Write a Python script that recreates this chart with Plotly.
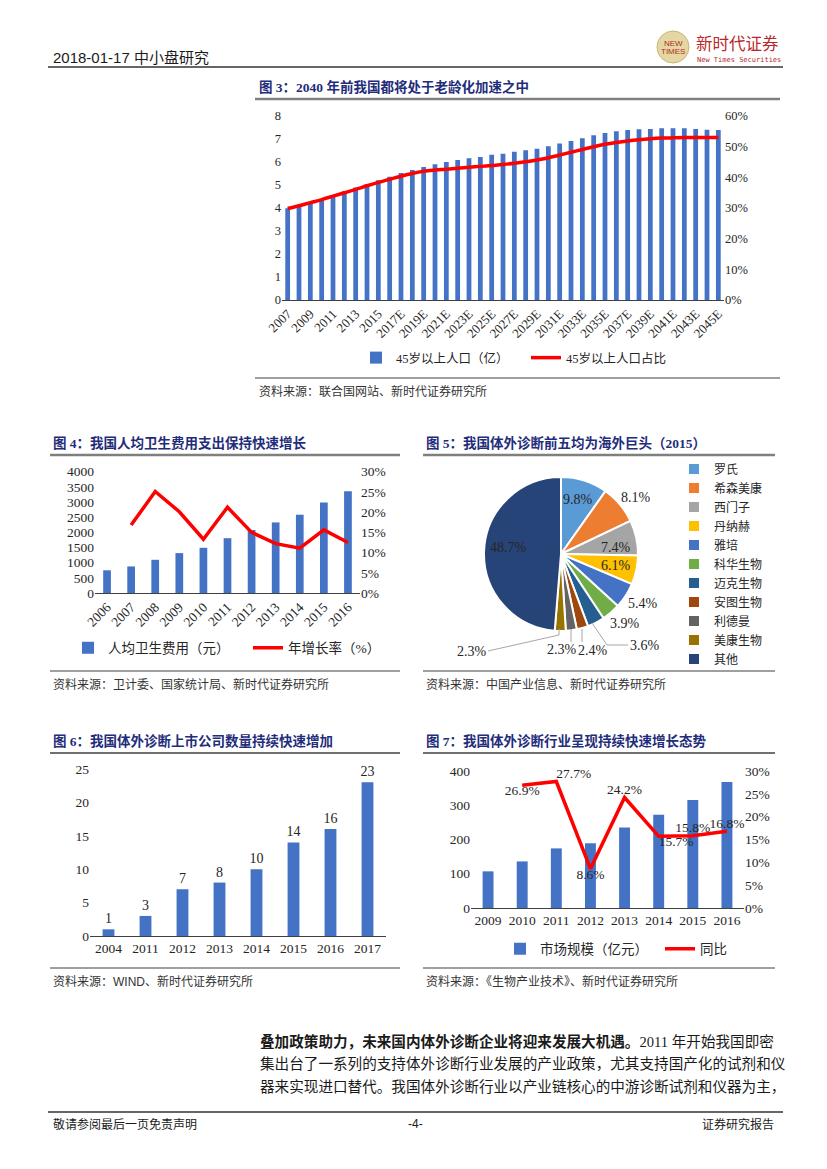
import plotly.graph_objects as go

W, H = 827, 1169

# ---------------- data ----------------
# Fig 3
years3 = [str(y) if y <= 2016 else f"{y}E" for y in range(2007, 2046)]
pop45 = [3.98, 4.1, 4.25, 4.35, 4.53, 4.72, 4.88, 5.04, 5.2, 5.35, 5.51, 5.64, 5.77, 5.89,
         5.99, 6.08, 6.15, 6.21, 6.3, 6.35, 6.43, 6.5, 6.57, 6.67, 6.79, 6.9, 7.02, 7.15,
         7.25, 7.32, 7.38, 7.41, 7.42, 7.45, 7.45, 7.45, 7.42, 7.39, 7.38]
pop45_share = [29.8, 30.7, 31.7, 32.7, 33.8, 34.9, 36.0, 37.2, 38.3, 39.3, 40.3, 41.2, 41.9,
               42.3, 42.6, 42.9, 43.2, 43.5, 43.8, 44.1, 44.5, 45.0, 45.6, 46.3, 47.2, 48.1,
               49.0, 49.9, 50.7, 51.3, 51.8, 52.2, 52.5, 52.7, 52.8, 52.9, 52.9, 52.9, 52.9]
ticks3 = years3[::2]

# Fig 4
years4 = [str(y) for y in range(2006, 2017)]
health_exp = [748.8, 876.0, 1094.5, 1314.3, 1490.1, 1807.0, 2076.7, 2327.4, 2581.7, 2980.8, 3351.7]
health_growth = [None, 16.8, 25.1, 20.1, 13.3, 21.2, 15.0, 12.2, 11.1, 15.6, 12.5]

# Fig 5
pie_labels = ["罗氏", "希森美康", "西门子", "丹纳赫", "雅培", "科华生物", "迈克生物",
              "安图生物", "利德曼", "美康生物", "其他"]
pie_values = [9.8, 8.1, 7.4, 6.1, 5.4, 3.9, 3.6, 2.4, 2.3, 2.3, 48.7]
pie_colors = ["#5B9BD5", "#ED7D31", "#A5A5A5", "#FFC000", "#4472C4", "#70AD47",
              "#255E91", "#9E480E", "#636363", "#997300", "#264478"]

# Fig 6
years6 = ["2004", "2011", "2012", "2013", "2014", "2015", "2016", "2017"]
listed_cos = [1, 3, 7, 8, 10, 14, 16, 23]

# Fig 7
years7 = [str(y) for y in range(2009, 2017)]
ivd_market = [107, 136, 174, 189, 235, 272, 315, 368]
ivd_growth = [None, 26.9, 27.7, 8.6, 24.2, 15.7, 15.8, 16.8]

# ---------------- helpers ----------------
BLUE = "#4472C4"
RED = "#FF0000"
NAVY = "#1F2D7A"
SERIF = "Liberation Serif, Noto Sans CJK SC"
SANS = "Liberation Sans, Noto Sans CJK SC"
TXT = "#262626"
OFF = 8  # page body margin offset


def px(x):
    return (x - OFF) / W


def py(y):
    return 1 - (y - OFF) / H


fig = go.Figure()

# ---------------- Fig 3 ----------------
fig.add_trace(go.Bar(x=years3, y=pop45, name="45岁以上人口（亿）", marker_color=BLUE,
                     width=0.42, xaxis="x", yaxis="y", legend="legend"))
fig.add_trace(go.Scatter(x=years3, y=pop45_share, name="45岁以上人口占比", mode="lines",
                         line=dict(color=RED, width=3.5, shape="spline"),
                         xaxis="x", yaxis="y2", legend="legend"))

# ---------------- Fig 4 ----------------
fig.add_trace(go.Bar(x=years4, y=health_exp, name="人均卫生费用（元）", marker_color=BLUE,
                     width=0.32, xaxis="x2", yaxis="y3", legend="legend2"))
fig.add_trace(go.Scatter(x=years4, y=health_growth, name="年增长率（%）", mode="lines",
                         line=dict(color=RED, width=3.5), connectgaps=False,
                         xaxis="x2", yaxis="y4", legend="legend2"))

# ---------------- Fig 5 ----------------
fig.add_trace(go.Pie(labels=pie_labels, values=pie_values, sort=False, direction="clockwise",
                     marker=dict(colors=pie_colors, line=dict(color="white", width=2)),
                     textinfo="none", hoverinfo="label+percent",
                     domain=dict(x=[px(484), px(638)], y=[py(631), py(477)]),
                     legend="legend3"))

# ---------------- Fig 6 ----------------
fig.add_trace(go.Bar(x=years6, y=listed_cos, marker_color=BLUE, text=listed_cos,
                     textposition="outside", constraintext="none",
                     textfont=dict(family=SERIF, size=14, color=TXT), width=0.32,
                     cliponaxis=False, showlegend=False, xaxis="x3", yaxis="y5"))

# ---------------- Fig 7 ----------------
fig.add_trace(go.Bar(x=years7, y=ivd_market, name="市场规模（亿元）", marker_color=BLUE,
                     width=0.32, xaxis="x4", yaxis="y6", legend="legend4"))
fig.add_trace(go.Scatter(x=years7, y=ivd_growth, name="同比", mode="lines+text",
                         text=[None if v is None else f"{v}%" for v in ivd_growth],
                         textposition=["top center", "bottom center", "top right", "bottom center",
                                       "top center", "bottom right", "top center", "top center"],
                         textfont=dict(family=SERIF, size=13.5, color=TXT),
                         line=dict(color=RED, width=3.5), cliponaxis=False,
                         xaxis="x4", yaxis="y7", legend="legend4"))


def tf(size):
    return dict(family=SERIF, size=size, color=TXT)


def xax(domain, anchor, size, **kw):
    return dict(domain=domain, anchor=anchor, type="category", showline=True, linecolor="#404040",
                linewidth=1.2, ticks="", showgrid=False, zeroline=False, fixedrange=True,
                automargin=False, tickfont=tf(size), **kw)


def yaxd(size, **kw):
    return dict(showline=False, showgrid=False, zeroline=False, ticks="", fixedrange=True,
                automargin=False, tickfont=tf(size), **kw)


fig.update_layout(
    template="none",
    width=W, height=H, margin=dict(l=0, r=0, t=0, b=0, autoexpand=False),
    paper_bgcolor="white", plot_bgcolor="white",
    font=dict(family=SERIF, color=TXT),
    # fig 3
    xaxis=xax([px(282), px(724)], "y", 13, tickvals=ticks3, tickangle=-45),
    yaxis=yaxd(12.5, domain=[py(300), py(115.7)], anchor="x", range=[0, 8], dtick=1),
    yaxis2=yaxd(12.5, overlaying="y", side="right", anchor="x", range=[0, 60], dtick=10,
                ticksuffix="%"),
    # fig 4
    xaxis2=xax([px(95), px(360)], "y3", 13.5, tickangle=-45),
    yaxis3=yaxd(13.5, domain=[py(593), py(471.7)], anchor="x2", range=[0, 4000], dtick=500),
    yaxis4=yaxd(13.5, overlaying="y3", side="right", anchor="x2", range=[0, 30], dtick=5,
                ticksuffix="%"),
    # fig 6
    xaxis3=xax([px(90), px(386)], "y5", 13.5),
    yaxis5=yaxd(13.5, domain=[py(936), py(769)], anchor="x3", range=[0, 25], dtick=5),
    # fig 7
    xaxis4=xax([px(471), px(744)], "y6", 13.5),
    yaxis6=yaxd(13.5, domain=[py(908), py(771)], anchor="x4", range=[0, 400], dtick=100),
    yaxis7=yaxd(13.5, overlaying="y6", side="right", anchor="x4", range=[0, 30], dtick=5,
                ticksuffix="%"),
    legend=dict(orientation="h", x=px(356), y=py(358), xanchor="left", yanchor="middle",
                font=dict(family=SERIF, size=12.5, color=TXT), entrywidth=125,
                entrywidthmode="pixels", bgcolor="rgba(0,0,0,0)", itemwidth=30),
    legend2=dict(orientation="h", x=px(68), y=py(648), xanchor="left", yanchor="middle",
                 font=dict(family=SERIF, size=13.5, color=TXT), entrywidth=135,
                 entrywidthmode="pixels", bgcolor="rgba(0,0,0,0)", itemwidth=30),
    legend3=dict(orientation="v", x=px(674), y=py(564), xanchor="left", yanchor="middle",
                 font=dict(family=SERIF, size=12, color=TXT), bgcolor="rgba(0,0,0,0)",
                 itemwidth=30, tracegroupgap=0),
    legend4=dict(orientation="h", x=px(500), y=py(949), xanchor="left", yanchor="middle",
                 font=dict(family=SANS, size=13.5, color=TXT), entrywidth=115,
                 entrywidthmode="pixels", bgcolor="rgba(0,0,0,0)", itemwidth=30),
)

annotations = []
shapes = []


def text(x, y, s, size=12.5, family=SANS, color=TXT, xanchor="left"):
    annotations.append(dict(x=px(x), y=py(y), xref="paper", yref="paper", text=s, showarrow=False,
                            xanchor=xanchor, yanchor="middle",
                            font=dict(family=family, size=size, color=color)))


def hline(x0, x1, y, color="#404040", width=1.2):
    shapes.append(dict(type="line", xref="paper", yref="paper", x0=px(x0), x1=px(x1),
                       y0=py(y), y1=py(y), line=dict(color=color, width=width)))


# header
text(51, 57, "2018-01-17 中小盘研究", size=15, family=SANS, color="#1a1a1a")
hline(48, 783, 67, color="#333333", width=1.5)
shapes.append(dict(type="circle", xref="paper", yref="paper", x0=px(657), x1=px(689),
                   y0=py(63), y1=py(31), fillcolor="#E5D7A3", line=dict(color="#C9B574", width=1)))
text(673, 43, "NEW", size=8, family=SANS, color="#B22A2A", xanchor="center")
text(673, 51, "TIMES", size=8, family=SANS, color="#B22A2A", xanchor="center")
text(694, 44, "新时代证券", size=16.5, family=SANS, color="#B8282C")
text(695, 60, "New Times Securities", size=7, family="DejaVu Sans Mono", color="#B8282C")

# titles
text(257, 87, "<b>图 3：2040 年前我国都将处于老龄化加速之中</b>", size=13.5, family=SERIF, color=NAVY)
hline(255, 780, 99, color="#7F7F7F", width=2.5)
hline(255, 780, 378, color="#404040", width=1.2)
text(257, 392, "资料来源：联合国网站、新时代证券研究所", size=12, family=SANS, color="#333")

text(51, 443, "<b>图 4：我国人均卫生费用支出保持快速增长</b>", size=13.5, family=SERIF, color=NAVY)
hline(50, 400, 455, color="#7F7F7F", width=2.5)
hline(50, 400, 671, color="#404040", width=1.2)
text(51, 684, "资料来源：卫计委、国家统计局、新时代证券研究所", size=12, family=SANS, color="#333")

text(424, 443, "<b>图 5：我国体外诊断前五均为海外巨头（2015）</b>", size=13.5, family=SERIF, color=NAVY)
hline(423, 775, 455, color="#7F7F7F", width=2.5)
hline(423, 775, 671, color="#404040", width=1.2)
text(424, 684, "资料来源：中国产业信息、新时代证券研究所", size=12, family=SANS, color="#333")

text(51, 741, "<b>图 6：我国体外诊断上市公司数量持续快速增加</b>", size=13.5, family=SERIF, color=NAVY)
hline(50, 400, 753, color="#404040", width=1.5)
hline(50, 400, 968, color="#404040", width=1.2)
text(51, 981, "资料来源：WIND、新时代证券研究所", size=12, family=SANS, color="#333")

text(424, 741, "<b>图 7：我国体外诊断行业呈现持续快速增长态势</b>", size=13.5, family=SERIF, color=NAVY)
hline(423, 775, 753, color="#404040", width=1.5)
hline(423, 775, 968, color="#404040", width=1.2)
text(424, 981, "资料来源：《生物产业技术》、新时代证券研究所", size=12, family=SANS, color="#333")

# pie labels
pie_label_pos = [(578, 499), (636, 497), (616, 547), (616, 565), (643, 603), (625, 623),
                 (645, 645), (593, 650), (562, 649), (472, 651), (508, 547)]
for v, (lx, ly) in zip(pie_values, pie_label_pos):
    text(lx, ly, f"{v}%", size=14, family=SERIF, color=TXT, xanchor="center")
# leader lines
for (x0, y0, x1, y1) in [(592, 623, 607, 645), (607, 645, 628, 645),
                         (559, 629, 559, 635), (559, 635, 488, 651),
                         (571, 629, 571, 642), (582, 629, 582, 642)]:
    shapes.append(dict(type="line", xref="paper", yref="paper", x0=px(x0), x1=px(x1),
                       y0=py(y0), y1=py(y1), line=dict(color="#A6A6A6", width=1)))

# paragraph
text(258, 1041, "<b>叠加政策助力，未来国内体外诊断企业将迎来发展大机遇。</b>2011 年开始我国即密",
     size=14.6, family=SERIF, color="#1a1a1a")
text(258, 1064, "集出台了一系列的支持体外诊断行业发展的产业政策，尤其支持国产化的试剂和仪",
     size=14.6, family=SERIF, color="#1a1a1a")
text(258, 1087, "器来实现进口替代。我国体外诊断行业以产业链核心的中游诊断试剂和仪器为主，",
     size=14.6, family=SERIF, color="#1a1a1a")

# footer
hline(48, 783, 1112, color="#333333", width=1.5)
text(51, 1124, "敬请参阅最后一页免责声明", size=12, family=SANS, color="#1a1a1a")
text(415, 1124, "-4-", size=12, family=SANS, color="#1a1a1a", xanchor="center")
text(776, 1124, "证券研究报告", size=12, family=SANS, color="#1a1a1a", xanchor="right")

fig.update_layout(annotations=annotations, shapes=shapes)

fig.write_html("out.html")
